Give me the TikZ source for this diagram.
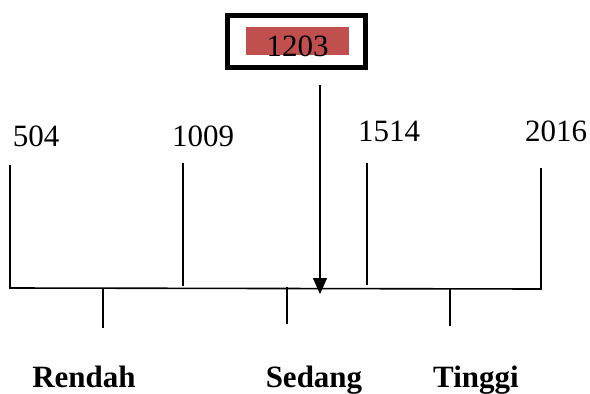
\documentclass[tikz,border=0pt]{standalone}
\usepackage{fontspec}
\setmainfont{Liberation Serif}
\usetikzlibrary{arrows.meta}
\definecolor{boxred}{HTML}{C0504D}
\tikzset{
  num/.style={anchor=base, inner sep=0pt, font=\fontsize{31}{31}\selectfont},
  cat/.style={anchor=base, inner sep=0pt, font=\fontsize{31}{31}\selectfont\bfseries},
  ln/.style={line width=1.6pt, black},
  frame/.style={draw=black, line width=5pt},
}
\begin{document}
\begin{tikzpicture}[x=1pt,y=-1pt]
\useasboundingbox (0,0) rectangle (590,394);
% value box
\fill[boxred] (246,27) rectangle (349,55);
\draw[frame] (227.5,15.5) rectangle (365.5,67.5);
\node[num] (val) at (297.5,56) {1203};
% scale labels
\node[num] (a) at (36,146) {504};
\node[num] (b) at (203,146) {1009};
\node[num] (c) at (389,141) {1514};
\node[num] (d) at (556,141) {2016};
% coordinates
\coordinate (aT) at (10,165);   \coordinate (aB) at (10,288);
\coordinate (bT) at (183,163);  \coordinate (bB) at (183,286);
\coordinate (cT) at (367,163);  \coordinate (cB) at (367,285);
\coordinate (dT) at (541,168);  \coordinate (dB) at (541,289);
\coordinate (r1) at (103,289);  \coordinate (r2) at (103,328);
\coordinate (s1) at (287,287);  \coordinate (s2) at (287,324);
\coordinate (t1) at (450,289);  \coordinate (t2) at (450,326);
\coordinate (arT) at (320,85);  \coordinate (arB) at (320,294);
% lines
\draw[ln] (aT) -- (aB) -- (dB) -- (dT);
\draw[ln] (bT) -- (bB);
\draw[ln] (cT) -- (cB);
\draw[ln] (r1) -- (r2);
\draw[ln] (s1) -- (s2);
\draw[ln] (t1) -- (t2);
\draw[ln, -{Triangle[width=14pt,length=16pt]}] (arT) -- (arB);
% categories
\node[cat] (low) at (84,387) {Rendah};
\node[cat] (mid) at (314,387) {Sedang};
\node[cat] (high) at (476,387) {Tinggi};
\end{tikzpicture}
\end{document}
